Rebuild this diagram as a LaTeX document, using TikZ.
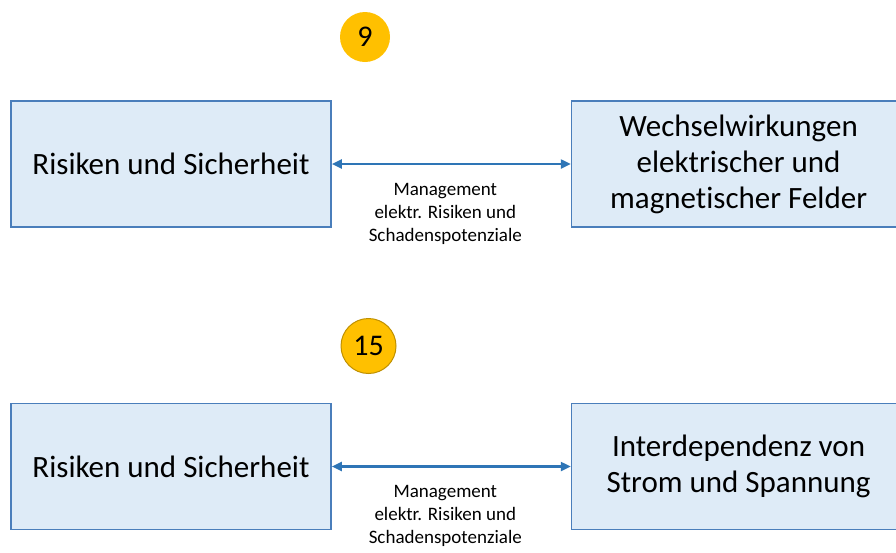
\documentclass[tikz,border=0pt]{standalone}
\usepackage{fontspec}
\setmainfont{Carlito}[Ligatures=NoCommon]
\usepackage{xcolor}
\usetikzlibrary{positioning, arrows.meta}

\definecolor{boxfill}{HTML}{DEEBF7}
\definecolor{boxline}{HTML}{4A7EBB}
\definecolor{arrowblue}{HTML}{2E75B6}
\definecolor{gold}{HTML}{FFC000}
\definecolor{darkgold}{HTML}{BF9000}

\begin{document}
\begin{tikzpicture}
    [
      x=1pt, y=-1pt,
      every node/.style = {font=\fontsize{31}{36}\selectfont},
      topic/.style = {shape=rectangle, draw=boxline, fill=boxfill, line width=1.6pt, align=center,
                      minimum width=320pt, minimum height=126pt, inner sep=0pt},
      badge/.style = {shape=circle, fill=gold, minimum size=50pt, inner sep=0pt,
                      font=\fontsize{30}{34}\selectfont},
      link/.style = {draw=arrowblue, line width=2.2pt, {Triangle[length=10pt,width=9pt]}-{Triangle[length=10pt,width=9pt]}},
      note/.style = {align=center, inner sep=0pt, font=\fontsize{19}{23}\selectfont}
    ]

    \path[use as bounding box] (0,0) rectangle (896,552);
    \clip (0,0) rectangle (896,552);

    % first pair
    \node[badge] (nine) at (365,37) {9};
    \node[topic] (risk1) at (171,164) {Risiken und Sicherheit};
    \node[topic, minimum width=334pt, right=239pt of risk1] (fields) {Wechselwirkungen\\elektrischer und\\magnetischer Felder};
    \draw[link] (risk1) -- (fields) coordinate[midway] (mid1);
    \node[note, below=19pt of mid1, xshift=-6pt] (mgmt1) {Management\\elektr. Risiken und\\Schadenspotenziale};

    % second pair
    \node[badge, draw=darkgold, line width=1pt, minimum size=55pt] (fifteen) at (368.5,346) {15};
    \node[topic] (risk2) at (171,466.5) {Risiken und Sicherheit};
    \node[topic, minimum width=334pt, right=239pt of risk2] (current) {Interdependenz von\\Strom und Spannung};
    \draw[link] (risk2) -- (current) coordinate[midway] (mid2);
    \node[note, below=19pt of mid2, xshift=-6pt] (mgmt2) {Management\\elektr. Risiken und\\Schadenspotenziale};
\end{tikzpicture}
\end{document}
